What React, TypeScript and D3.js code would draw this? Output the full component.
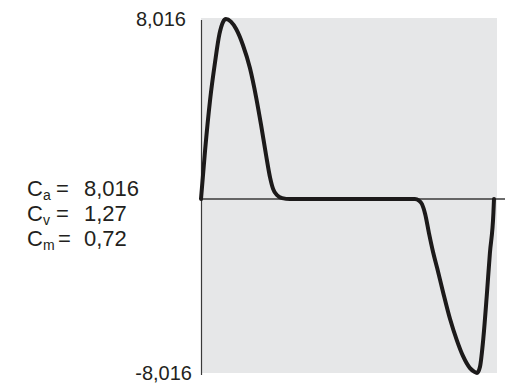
import React from "react";
import * as d3 from "d3";

// normalised time of the cycle
const tValues = [
  0, 0.014, 0.031, 0.048, 0.063, 0.075, 0.085, 0.102, 0.12, 0.143, 0.167, 0.188, 0.205, 0.222,
  0.236, 0.246, 0.259, 0.277, 0.304, 0.4, 0.5, 0.6, 0.7, 0.73, 0.744, 0.754, 0.765, 0.778, 0.792,
  0.806, 0.826, 0.85, 0.873, 0.894, 0.918, 0.932, 0.942, 0.952, 0.964, 0.975, 0.986, 0.998, 1,
];
// acceleration values
const accValues = [
  0, 2.18, 4.41, 6.1, 7.35, 7.88, 8.016, 7.9, 7.57, 6.86, 5.83, 4.54, 3.3, 1.96,
  0.94, 0.45, 0.18, 0.04, 0, 0, 0, 0, 0, 0, -0.07, -0.23, -0.69, -1.57, -2.44,
  -3.18, -4.28, -5.53, -6.5, -7.23, -7.79, -7.95, -8.016, -7.74, -6.36, -4.51, -2.49, -0.64, 0,
];
const yTicks = [8.016, -8.016];
const yTickLabels = ["8,016", "-8,016"];
const coefNames = ["a", "v", "m"];
const coefValues = ["8,016", "1,27", "0,72"];

const W = 505;
const H = 383;

export default function App() {
  const x = d3.scaleLinear().domain([0, 1]).range([201, 494]);
  const y = d3.scaleLinear().domain([-8.016, 0, 8.016]).range([373, 199, 19]);

  const pts = tValues.map((t, i) => [t, accValues[i]] as [number, number]);
  const line = d3
    .line<[number, number]>()
    .x((d) => x(d[0]))
    .y((d) => y(d[1]))
    .curve(d3.curveMonotoneX);

  const font = "'Liberation Sans', Arial, sans-serif";

  return (
    <svg
      width={W}
      height={H}
      style={{ position: "absolute", left: 0, top: 0, background: "#fff" }}
      fontFamily={font}
    >
      <rect x={201} y={18} width={296} height={355} fill="#e6e7e8" />
      <line x1={201.5} x2={201.5} y1={20} y2={375} stroke="#3a3a3a" strokeWidth={1.2} />
      <line x1={201} x2={505} y1={y(0)} y2={y(0)} stroke="#3a3a3a" strokeWidth={1.3} />
      <path
        d={line(pts) || ""}
        fill="none"
        stroke="#1c1a1a"
        strokeWidth={4}
        strokeLinejoin="round"
        strokeLinecap="round"
      />
      {yTicks.map((v, i) => (
        <text
          key={i}
          x={i === 0 ? 186 : 192}
          y={y(v)}
          dy="0.35em"
          textAnchor="end"
          fontSize={20}
          fill="#231f20"
        >
          {yTickLabels[i]}
        </text>
      ))}
      {coefNames.map((n, i) => (
        <g key={n} fill="#231f20" fontSize={22}>
          <text x={27} y={196 + i * 25}>
            C<tspan fontSize={14} dy={4}>{n}</tspan>
          </text>
          <text x={n === "m" ? 58 : 56} y={196 + i * 25}>=</text>
          <text x={84} y={196 + i * 25}>{coefValues[i]}</text>
        </g>
      ))}
    </svg>
  );
}
